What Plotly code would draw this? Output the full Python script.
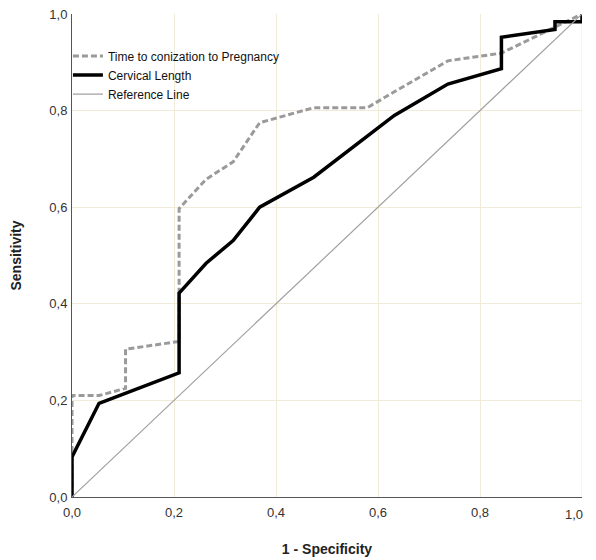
import plotly.graph_objects as go

# Time to conization to Pregnancy (gray dashed)
tc_x = [0.0, 0.0, 0.053, 0.105, 0.105, 0.210, 0.210, 0.263, 0.316, 0.368, 0.474, 0.579, 0.632, 0.737, 0.842, 1.0]
tc_y = [0.0, 0.210, 0.210, 0.225, 0.306, 0.322, 0.597, 0.658, 0.694, 0.775, 0.806, 0.806, 0.839, 0.903, 0.919, 1.0]

# Cervical Length (black)
cl_x = [0.0, 0.0, 0.053, 0.210, 0.210, 0.263, 0.316, 0.368, 0.474, 0.632, 0.737, 0.842, 0.842, 0.947, 0.947, 1.0, 1.0]
cl_y = [0.0, 0.083, 0.194, 0.257, 0.422, 0.484, 0.531, 0.600, 0.662, 0.790, 0.855, 0.887, 0.952, 0.968, 0.984, 0.984, 1.0]

# Reference line
ref_x = [0.0, 1.0]
ref_y = [0.0, 1.0]

tick_vals = [0.0, 0.2, 0.4, 0.6, 0.8, 1.0]
tick_text = ["0,0", "0,2", "0,4", "0,6", "0,8", "1,0"]

fig = go.Figure()
fig.add_trace(go.Scatter(x=tc_x, y=tc_y, mode="lines", name="Time to conization to Pregnancy",
                         line=dict(color="#9a9a9a", width=3, dash="6px,3px")))
fig.add_trace(go.Scatter(x=cl_x, y=cl_y, mode="lines", name="Cervical Length",
                         line=dict(color="#000000", width=3.5)))
fig.add_trace(go.Scatter(x=ref_x, y=ref_y, mode="lines", name="Reference Line",
                         line=dict(color="#a0a0a0", width=1.2)))

fig.update_layout(
    width=596, height=560,
    margin=dict(l=64, r=22, t=6, b=71),
    paper_bgcolor="white", plot_bgcolor="white",
    font=dict(family="Liberation Sans, Arial, sans-serif", size=13, color="#333333"),
    legend=dict(x=-0.008, y=0.943, xanchor="left", yanchor="top",
                bgcolor="rgba(0,0,0,0)", font=dict(size=12, color="#111111"),
                tracegroupgap=0, itemwidth=30),
    showlegend=True,
)
# last x tick label is drawn as an annotation, right-aligned at the axis end (as in the reference)
fig.update_xaxes(range=[0, 1], tickvals=tick_vals[:-1], ticktext=tick_text[:-1], automargin=False,
                 showgrid=True, gridcolor="#f0ebd8", gridwidth=1,
                 showline=True, linecolor="#555555", linewidth=1,
                 zeroline=False, ticks="outside", ticklen=3, tickcolor="rgba(0,0,0,0)",
                 ticklabeloverflow="allow",
                 title=dict(text="<b>1 - Specificity</b>", font=dict(size=14, color="#222222"), standoff=25))
fig.add_vline(x=tick_vals[-1], line=dict(color="#f0ebd8", width=1), layer="below")
fig.add_annotation(x=tick_vals[-1], xref="x", y=0, yref="paper", yanchor="top", yshift=-8,
                   xanchor="right", xshift=3, text=tick_text[-1], showarrow=False,
                   font=dict(size=13, color="#333333"))
fig.update_yaxes(range=[0, 1], tickvals=tick_vals, ticktext=tick_text, automargin=False,
                 showgrid=True, gridcolor="#f0ebd8", gridwidth=1,
                 showline=True, linecolor="#555555", linewidth=1,
                 zeroline=False, ticks="outside", ticklen=1, tickcolor="rgba(0,0,0,0)",
                 ticklabeloverflow="allow",
                 title=dict(text="<b>Sensitivity</b>", font=dict(size=14, color="#222222"), standoff=26))

fig.write_html("out.html")
